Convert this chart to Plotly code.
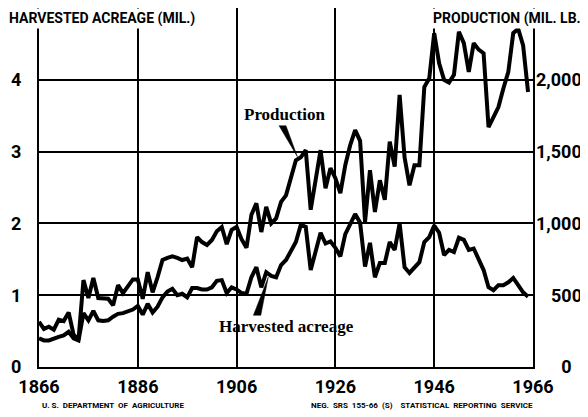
import plotly.graph_objects as go

years = list(range(1866, 1966))

production_mil_lb = [
    315, 265, 280, 260, 330, 320, 380, 225, 190, 605,
    480, 620, 480, 475, 475, 430, 570, 515, 560, 610,
    610, 475, 660, 520, 625, 745, 760, 770, 760, 745,
    755, 695, 905, 870, 850, 885, 945, 975, 855, 955,
    975, 890, 830, 1060, 1140, 940, 1115, 1000, 1035, 1150,
    1195, 1325, 1440, 1460, 1510, 1095, 1290, 1510, 1245, 1385,
    1315, 1210, 1405, 1545, 1650, 1575, 1010, 1370, 1080, 1300,
    1165, 1570, 1395, 1895, 1460, 1265, 1405, 1405, 1950, 2010,
    2325, 2115, 2000, 1980, 2035, 2335, 2255, 2055, 2255, 2210,
    2185, 1670, 1740, 1810, 1940, 2055, 2325, 2355, 2240, 1915,
]

acreage_mil = [
    0.40, 0.37, 0.37, 0.40, 0.42, 0.44, 0.49, 0.40, 0.37, 0.75,
    0.65, 0.78, 0.65, 0.64, 0.65, 0.70, 0.74, 0.75, 0.77, 0.80,
    0.85, 0.73, 0.88, 0.76, 0.84, 0.97, 1.05, 1.09, 1.00, 1.02,
    0.97, 1.10, 1.10, 1.08, 1.08, 1.11, 1.20, 1.21, 1.03, 1.11,
    1.08, 1.03, 1.02, 1.25, 1.39, 1.11, 1.32, 1.27, 1.25, 1.42,
    1.49, 1.63, 1.74, 1.98, 1.95, 1.35, 1.60, 1.87, 1.72, 1.75,
    1.66, 1.54, 1.85, 2.00, 2.13, 2.01, 1.40, 1.73, 1.25, 1.45,
    1.45, 1.74, 1.63, 2.00, 1.39, 1.31, 1.38, 1.46, 1.74, 1.81,
    1.97, 1.87, 1.56, 1.63, 1.60, 1.80, 1.77, 1.63, 1.65, 1.49,
    1.35, 1.11, 1.07, 1.14, 1.14, 1.18, 1.24, 1.14, 1.04, 0.98,
]

x_ticks = [1866, 1886, 1906, 1926, 1946, 1966]
left_ticks = [0, 1, 2, 3, 4]
left_tick_text = ["0", "1", "2", "3", "4"]
right_ticks = [0, 500, 1000, 1500, 2000]
right_tick_text = ["\u2007\u2007\u20080", "\u2007\u2008500", "1,000", "1,500", "2,000"]

COND = "Roboto, Liberation Sans, sans-serif"
SERIF = "Liberation Serif, DejaVu Serif, serif"

# the page body has an 8px default margin, so the figure is sized to fit the window
OFF = 8
W, H = 588 - OFF, 417 - OFF
L, R, T, B = 31, 55, 0, 50

fig = go.Figure()
fig.add_trace(go.Scatter(x=years, y=acreage_mil, mode="lines",
                         line=dict(color="black", width=4), yaxis="y",
                         name="Harvested acreage", showlegend=False))
fig.add_trace(go.Scatter(x=years, y=production_mil_lb, mode="lines",
                         line=dict(color="black", width=4), yaxis="y2",
                         name="Production", showlegend=False))

tickfont = dict(family=COND, size=18, color="black", weight="bold")

fig.update_layout(
    width=W, height=H, autosize=False,
    margin=dict(l=L, r=R, t=T, b=B, pad=0),
    paper_bgcolor="white", plot_bgcolor="white",
    xaxis=dict(range=[1866, 1966], tickvals=x_ticks, showgrid=True,
               gridcolor="black", gridwidth=1.5, showline=True, linecolor="black",
               linewidth=2, mirror=True, zeroline=False, ticks="",
               tickfont=tickfont, ticklabelstandoff=2, automargin=False),
    yaxis=dict(range=[0, 5], tickvals=left_ticks, ticktext=left_tick_text,
               showgrid=True, gridcolor="black", gridwidth=1.5, showline=True,
               linecolor="black", linewidth=2, mirror=True, zeroline=False, ticks="",
               tickfont=tickfont, ticklabelstandoff=12, automargin=False),
    yaxis2=dict(range=[0, 2500], tickvals=right_ticks, ticktext=right_tick_text,
                overlaying="y", side="right", showgrid=False, zeroline=False,
                showline=False, ticks="", tickfont=tickfont,
                ticklabelstandoff=2, automargin=False),
)

# pointer wedges
fig.add_shape(type="path", xref="x", yref="y",
              path="M 1914.6,3.36 L 1916.0,3.36 L 1918.3,2.93 Z",
              fillcolor="black", line=dict(color="black", width=0.5))
fig.add_shape(type="path", xref="x", yref="y",
              path="M 1909.4,0.72 L 1910.9,0.72 L 1912.4,1.25 Z",
              fillcolor="black", line=dict(color="black", width=0.5))

fig.add_annotation(x=1915.6, y=3.51, xref="x", yref="y", text="<b>Production</b>",
                   showarrow=False, font=dict(family=SERIF, size=17, color="black"))
fig.add_annotation(x=1916.0, y=0.56, xref="x", yref="y", text="<b>Harvested acreage</b>",
                   showarrow=False, font=dict(family=SERIF, size=17, color="black"))

# page-pixel positioned texts
fig.add_annotation(x=7, y=8, xref="paper", yref="paper", text="<b>HARVESTED ACREAGE (MIL.)</b>",
                   showarrow=False, font=dict(family=COND, size=14, color="black"),
                   bgcolor="white", xanchor="left", yanchor="top", borderpad=1)
fig.add_annotation(x=588, y=8, xref="paper", yref="paper", text="<b>PRODUCTION (MIL. LB.)</b>",
                   showarrow=False, font=dict(family=COND, size=14, color="black"),
                   bgcolor="white", xanchor="right", yanchor="top", borderpad=1)
fig.add_annotation(x=40, y=406, xref="paper", yref="paper", text="<b>U. S.  DEPARTMENT  OF  AGRICULTURE</b>",
                   showarrow=False, font=dict(family=COND, size=8, color="black"),
                   xanchor="left", yanchor="middle")
fig.add_annotation(x=535, y=406, xref="paper", yref="paper",
                   text="<b>NEG.  SRS  155-66  (S)    STATISTICAL  REPORTING  SERVICE</b>",
                   showarrow=False, font=dict(family=COND, size=8, color="black"),
                   xanchor="right", yanchor="middle")

pw, ph = W - L - R, H - T - B
for a in fig.layout.annotations:
    if a.xref == "paper":
        a.x = (a.x - OFF - L) / pw
        a.y = 1 - (a.y - OFF - T) / ph

fig.write_html("out.html")
